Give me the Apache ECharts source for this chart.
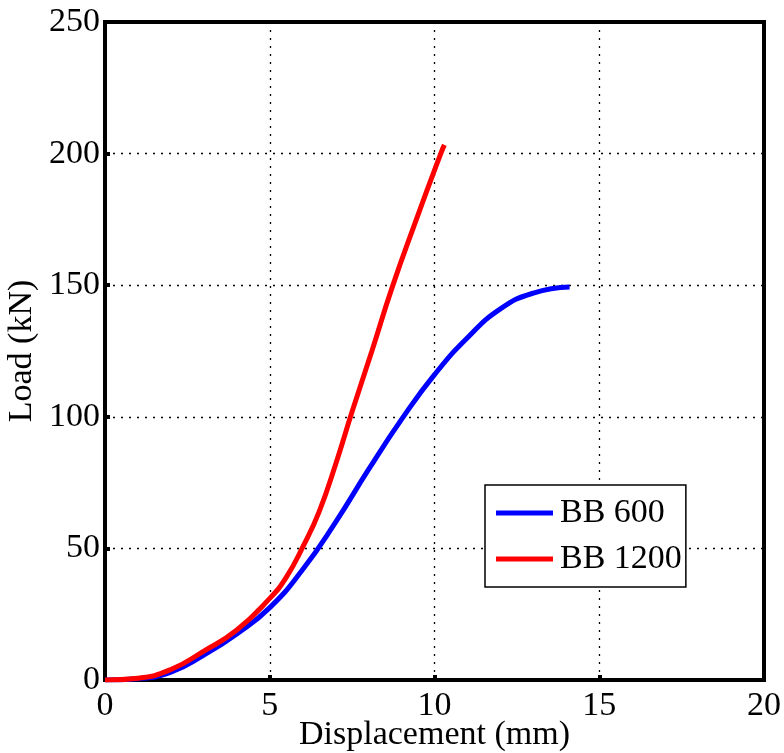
<!DOCTYPE html>
<html>
<head>
<meta charset="utf-8">
<script src="https://cdn.jsdelivr.net/npm/echarts@6/dist/echarts.min.js"></script>
<style>html,body{margin:0;padding:0;background:#fff}#c{width:784px;height:753px}</style>
</head>
<body>
<div id="c"></div>
<script>
var xTicks = [0, 5, 10, 15, 20];
var yTicks = [0, 50, 100, 150, 200, 250];
var seriesNames = ['BB 600', 'BB 1200'];
var bb600X = [0, 1, 2, 3, 4, 5, 6, 7, 8, 9, 10, 11, 12, 13, 14.1];
var bb600Y = [0, 0.5, 3, 9.5, 17.5, 27.5, 42, 60, 80, 99, 116, 130, 141, 147, 149.3];
var bb1200X = [0, 1, 2, 3, 4, 5, 5.5, 6, 6.5, 7, 7.5, 8.1, 8.71, 9.45, 10.19, 10.3];
var bb1200Y = [0, 0.7, 4, 11, 19, 31, 39, 50.5, 64, 82, 102, 125, 149, 175, 200, 203.3];

function pairs(xs, ys) { return xs.map(function (x, i) { return [x, ys[i]]; }); }

var font = 'Liberation Serif';
var fs = 34;
var chart = echarts.init(document.getElementById('c'), null, {renderer: 'canvas'});
chart.setOption({
  animation: false,
  backgroundColor: '#fff',
  grid: {left: 105, right: 20, top: 22, bottom: 73, show: true, borderColor: '#000', borderWidth: 4, backgroundColor: 'transparent',
         containLabel: false, outerBoundsMode: 'none'},
  legend: {
    data: seriesNames,
    orient: 'vertical',
    left: 485, top: 485,
    backgroundColor: '#fff',
    borderColor: '#000', borderWidth: 1.5,
    padding: [11, 4, 11, 11],
    itemGap: 12,
    itemWidth: 57, itemHeight: 5,
    icon: 'rect',
    textStyle: {fontFamily: font, fontSize: fs, color: '#000', padding: [0, 0, 0, 2]}
  },
  xAxis: {
    type: 'value', min: 0, max: 20, interval: 5,
    name: 'Displacement (mm)', nameLocation: 'middle', nameGap: 38, nameMoveOverlap: false,
    nameTextStyle: {fontFamily: font, fontSize: fs, color: '#000'},
    axisLine: {show: true, onZero: false, lineStyle: {color: '#000', width: 4}},
    axisTick: {show: true, inside: true, length: 5, lineStyle: {color: '#000', width: 4}},
    axisLabel: {fontFamily: font, fontSize: fs, color: '#000', margin: 9,
      formatter: function (v) { return xTicks.indexOf(v) >= 0 ? String(v) : ''; }},
    splitLine: {show: true, lineStyle: {color: '#000', width: 1.3, type: [2, 6]}}
  },
  yAxis: {
    type: 'value', min: 0, max: 250, interval: 50,
    name: 'Load (kN)', nameLocation: 'middle', nameGap: 66, nameMoveOverlap: false,
    nameTextStyle: {fontFamily: font, fontSize: fs, color: '#000'},
    axisLine: {show: true, onZero: false, lineStyle: {color: '#000', width: 4}},
    axisTick: {show: true, inside: true, length: 5, lineStyle: {color: '#000', width: 4}},
    axisLabel: {fontFamily: font, fontSize: fs, color: '#000', margin: 5,
      formatter: function (v) { return yTicks.indexOf(v) >= 0 ? String(v) : ''; }},
    splitLine: {show: true, lineStyle: {color: '#000', width: 1.3, type: [2, 6]}}
  },
  series: [
    {name: seriesNames[0], type: 'line', data: pairs(bb600X, bb600Y), smooth: 0.5, showSymbol: false, symbol: 'none',
     itemStyle: {color: '#0000ff'}, lineStyle: {color: '#0000ff', width: 5}, z: 3},
    {name: seriesNames[1], type: 'line', data: pairs(bb1200X, bb1200Y), smooth: 0.5, showSymbol: false, symbol: 'none',
     itemStyle: {color: '#ff0000'}, lineStyle: {color: '#ff0000', width: 5}, z: 4}
  ]
});
</script>
</body>
</html>
